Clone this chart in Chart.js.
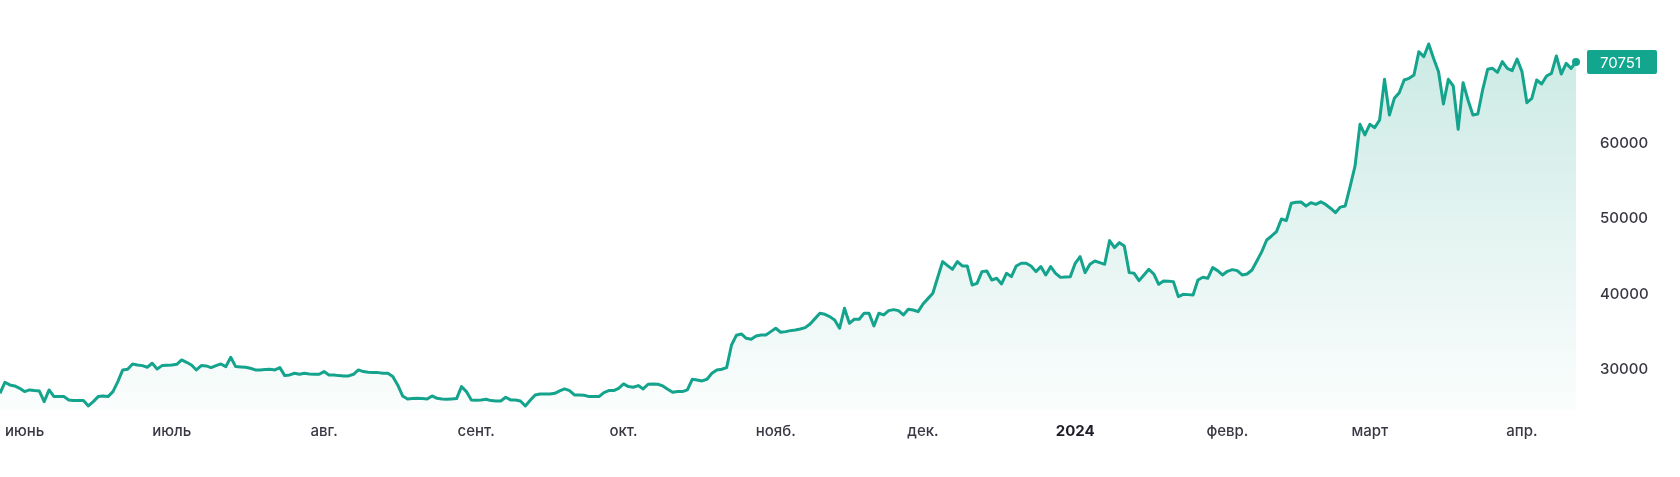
<!DOCTYPE html>
<html>
<head>
<meta charset="utf-8">
<script src="https://cdn.jsdelivr.net/npm/chart.js@4/dist/chart.umd.min.js"></script>
<style>
html,body{margin:0;padding:0;background:#fff;}
#c{display:block;}
</style>
</head>
<body>
<canvas id="c" width="1680" height="477"></canvas>
<script>
// Daily closing values, starting 27 May 2023 (index 0) through 12 Apr 2024
const prices = [
26913,28368,28016,27883,27575,27134,27354,27266,27222,25810,
27354,26472,26472,26472,26031,25943,25943,25943,25237,25810,
26472,26560,26472,27134,28456,30000,30088,30794,30662,30573,
30353,30882,30132,30573,30617,30662,30750,31323,31014,30662,
30000,30573,30529,30309,30573,30794,30441,31676,30441,30397,
30353,30221,30000,30000,30050,30088,30000,30309,29250,29339,
29559,29427,29559,29471,29427,29427,29780,29339,29339,29250,
29206,29206,29427,30000,29780,29691,29647,29647,29559,29559,
29118,28016,26560,26163,26207,26251,26207,26163,26560,26251,
26163,26119,26163,26207,27795,27134,26031,25987,26031,26119,
25943,25899,25899,26384,26031,26031,25899,25237,26000,26693,
26825,26825,26825,26913,27222,27486,27266,26693,26693,26649,
26472,26472,26472,27001,27266,27266,27574,28148,27795,27707,
27927,27486,28104,28148,28104,27883,27442,27045,27134,27134,
27354,28765,28677,28545,28765,29559,29998,30088,30300,33300,
34600,34763,34190,34057,34498,34631,34631,35072,35513,34984,
35072,35204,35292,35424,35601,36086,36790,37497,37365,37056,
36615,35513,38158,36174,36704,36704,37497,37497,35821,37497,
37277,37850,37982,37850,37277,38026,37938,37718,38732,39437,
40143,42260,44333,43804,43318,44333,43759,43759,41246,41466,
43010,43098,41907,42128,41378,42789,42348,43759,44112,44112,
43759,43010,43671,42569,43671,42789,42250,42304,42348,44112,
44994,42877,43980,44421,44200,43980,47111,46185,46844,46405,
42877,42789,41819,42568,43318,42700,41333,41775,41731,41687,
39702,40011,39967,39923,41907,42260,42128,43539,43142,42569,
43053,43274,43142,42569,42700,43230,44421,45655,47199,47728,
48301,49977,49757,52050,52182,52226,51697,52138,51918,52250,
51900,51400,50815,51550,51700,54300,57000,62500,61100,62500,
62060,63075,68455,63737,65942,66691,68367,68588,69029,72115,
71454,73130,71200,69470,65192,68455,67573,61840,68014,65721,
63737,63869,67100,69778,69911,69381,70793,69911,69602,71145,
69470,65368,65942,68367,67838,68896,69249,71542,69161,70572,
69911,70751
];
// Month boundaries (day index of the 1st of each month) and their labels
const monthIndex = [5,35,66,97,127,158,188,219,250,279,310];
const monthLabels = ['июнь','июль','авг.','сент.','окт.','нояб.','дек.','2024','февр.','март','апр.'];
// Y axis tick values shown
const yTicks = [30000,40000,50000,60000];
const lastPrice = 70751;

const LINE = '#14a38c';
const FONT = "Inter, 'Noto Sans', sans-serif";

const points = prices.map((v,i)=>({x:i,y:v}));

const priceTag = {
  id:'priceTag',
  afterDatasetsDraw(chart){
    const {ctx, chartArea, scales} = chart;
    const y = scales.y.getPixelForValue(lastPrice);
    const x0 = chartArea.right + 11;
    const w = 70, h = 24;
    ctx.save();
    ctx.fillStyle = '#12a68e';
    ctx.beginPath();
    if (ctx.roundRect) ctx.roundRect(x0, y - h/2, w, h, 2); else ctx.rect(x0, y-h/2, w, h);
    ctx.fill();
    ctx.fillStyle = '#ffffff';
    ctx.font = "400 15px " + FONT;
    ctx.textBaseline = 'middle';
    ctx.textAlign = 'left';
    ctx.fillText(String(lastPrice), chartArea.right + 24, y + 1);
    ctx.restore();
  }
};

new Chart(document.getElementById('c'), {
  type:'line',
  data:{
    datasets:[{
      data: points,
      borderColor: LINE,
      borderWidth: 3,
      borderJoinStyle: 'round',
      tension: 0,
      fill: 'start',
      backgroundColor: (ctx)=>{
        const ca = ctx.chart.chartArea;
        if (!ca) return 'rgba(22,165,142,0.15)';
        const g = ctx.chart.ctx.createLinearGradient(0, ca.top, 0, ca.bottom);
        g.addColorStop(0, 'rgba(22,160,135,0.24)');
        g.addColorStop(1, 'rgba(22,160,135,0.02)');
        return g;
      },
      pointRadius: (ctx)=> ctx.dataIndex === prices.length - 1 ? 4 : 0,
      pointBackgroundColor: LINE,
      pointBorderWidth: 0,
      pointHoverRadius: 0,
      clip: 6
    }]
  },
  options:{
    responsive:false,
    animation:false,
    devicePixelRatio:1,
    layout:{autoPadding:false, padding:{top:10,left:0,right:0,bottom:0}},
    plugins:{legend:{display:false},tooltip:{enabled:false}},
    scales:{
      x:{
        type:'linear',
        min:0,
        max:prices.length-1,
        grid:{display:false,drawTicks:false},
        border:{display:false},
        afterBuildTicks:(s)=>{ s.ticks = monthIndex.map(v=>({value:v})); },
        afterFit:(s)=>{ s.height = 67; s.paddingLeft = 0; s.paddingRight = 0; },
        ticks:{
          autoSkip:false,
          maxRotation:0,
          padding:12,
          callback:(v)=>{ const k = monthIndex.indexOf(v); return k>=0 ? monthLabels[k] : ''; },
          font:(c)=> (c.tick && c.tick.label === '2024') ? {family:FONT,size:15,weight:'700'} : {family:FONT,size:15,weight:'500'},
          color:(c)=> (c.tick && c.tick.label === '2024') ? '#1e1e2a' : '#383842'
        }
      },
      y:{
        position:'right',
        min:24700,
        max:77630,
        grid:{display:false,drawTicks:false},
        border:{display:false},
        afterBuildTicks:(s)=>{ s.ticks = yTicks.map(v=>({value:v})); },
        afterFit:(s)=>{ s.width = 104; s.paddingTop = 0; s.paddingBottom = 0; },
        ticks:{
          padding:24,
          callback:(v)=>String(v),
          font:{family:FONT,size:15,weight:'500'},
          color:'#383842'
        }
      }
    }
  },
  plugins:[priceTag]
});
</script>
</body>
</html>
